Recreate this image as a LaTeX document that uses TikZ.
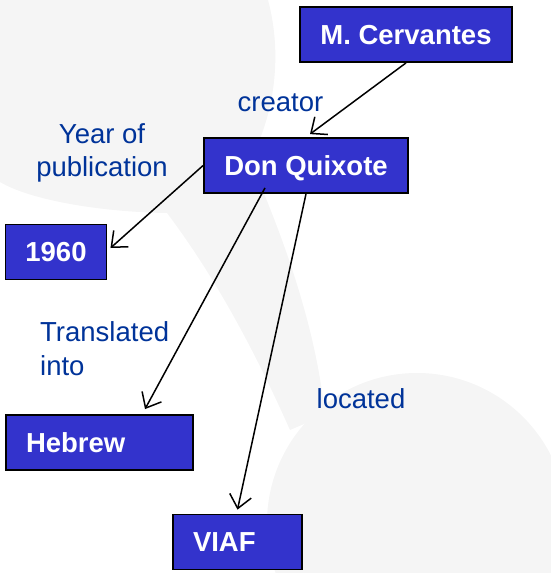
\documentclass[tikz,border=0pt]{standalone}
\usepackage{fontspec}
\setmainfont{Liberation Sans}
\usetikzlibrary{arrows.meta}
\definecolor{boxblue}{RGB}{51,51,204}
\definecolor{labelblue}{RGB}{0,51,153}
\definecolor{swoosh}{RGB}{245,245,245}
\begin{document}
\begin{tikzpicture}[x=1pt,y=-1pt,
    entity/.style={draw=black,line width=1.8pt,fill=boxblue,text=white,
      font=\fontsize{27.5}{33}\selectfont\bfseries,inner xsep=20pt,
      text height=19.7pt,text depth=0pt,minimum height=55pt},
    rel/.style={line width=1.5pt,-{Straight Barb[length=13pt,width=22pt]}},
    lbl/.style={text=labelblue,font=\fontsize{27.5}{33.4}\selectfont,inner sep=0pt}]
  \useasboundingbox (0,0) rectangle (551,573);
  % faint background
  \begin{scope}
    \clip (0,0) rectangle (551,573);
    \fill[swoosh] (0,0) -- (268,0) .. controls (284,60) and (272,120) .. (250,160)
      .. controls (280,230) and (315,320) .. (325,415) -- (290,430)
      .. controls (250,340) and (210,270) .. (167,213)
      .. controls (100,212) and (30,200) .. (0,182) -- cycle;
    \fill[swoosh] (417,523) circle[radius=150pt];
  \end{scope}
  \draw
    (406,34.5) node[entity,minimum width=212pt] (cervantes){M. Cervantes}
    (306,165.5) node[entity,minimum width=204pt] (quixote){Don Quixote}
    (56,252) node[entity,minimum width=100pt] (year){1960}
    (99.5,442.5) node[entity,text width=147pt,align=left] (hebrew){Hebrew}
    (237.5,542) node[entity,text width=89pt,align=left] (viaf){VIAF};
  \draw
    (280.5,111) node[lbl,anchor=base] (creator){creator}
    (102,176.7) node[lbl,anchor=base,align=center] (pubyear){Year of\\publication}
    (40,375) node[lbl,anchor=base west,align=left] (transl){Translated\\into}
    (361,408) node[lbl,anchor=base] (located){located};
  \begin{scope}[rel]
    \draw (cervantes.south) to ([xshift=4pt,yshift=3pt]quixote.north);
    \draw (quixote.west) to ([xshift=3pt,yshift=4pt]year.east);
    \draw ([xshift=-41pt,yshift=6pt]quixote.south) to ([xshift=45.5pt,yshift=5pt]hebrew.north);
    \draw (quixote.south) to ([yshift=4pt]viaf.north);
  \end{scope}
\end{tikzpicture}
\end{document}
